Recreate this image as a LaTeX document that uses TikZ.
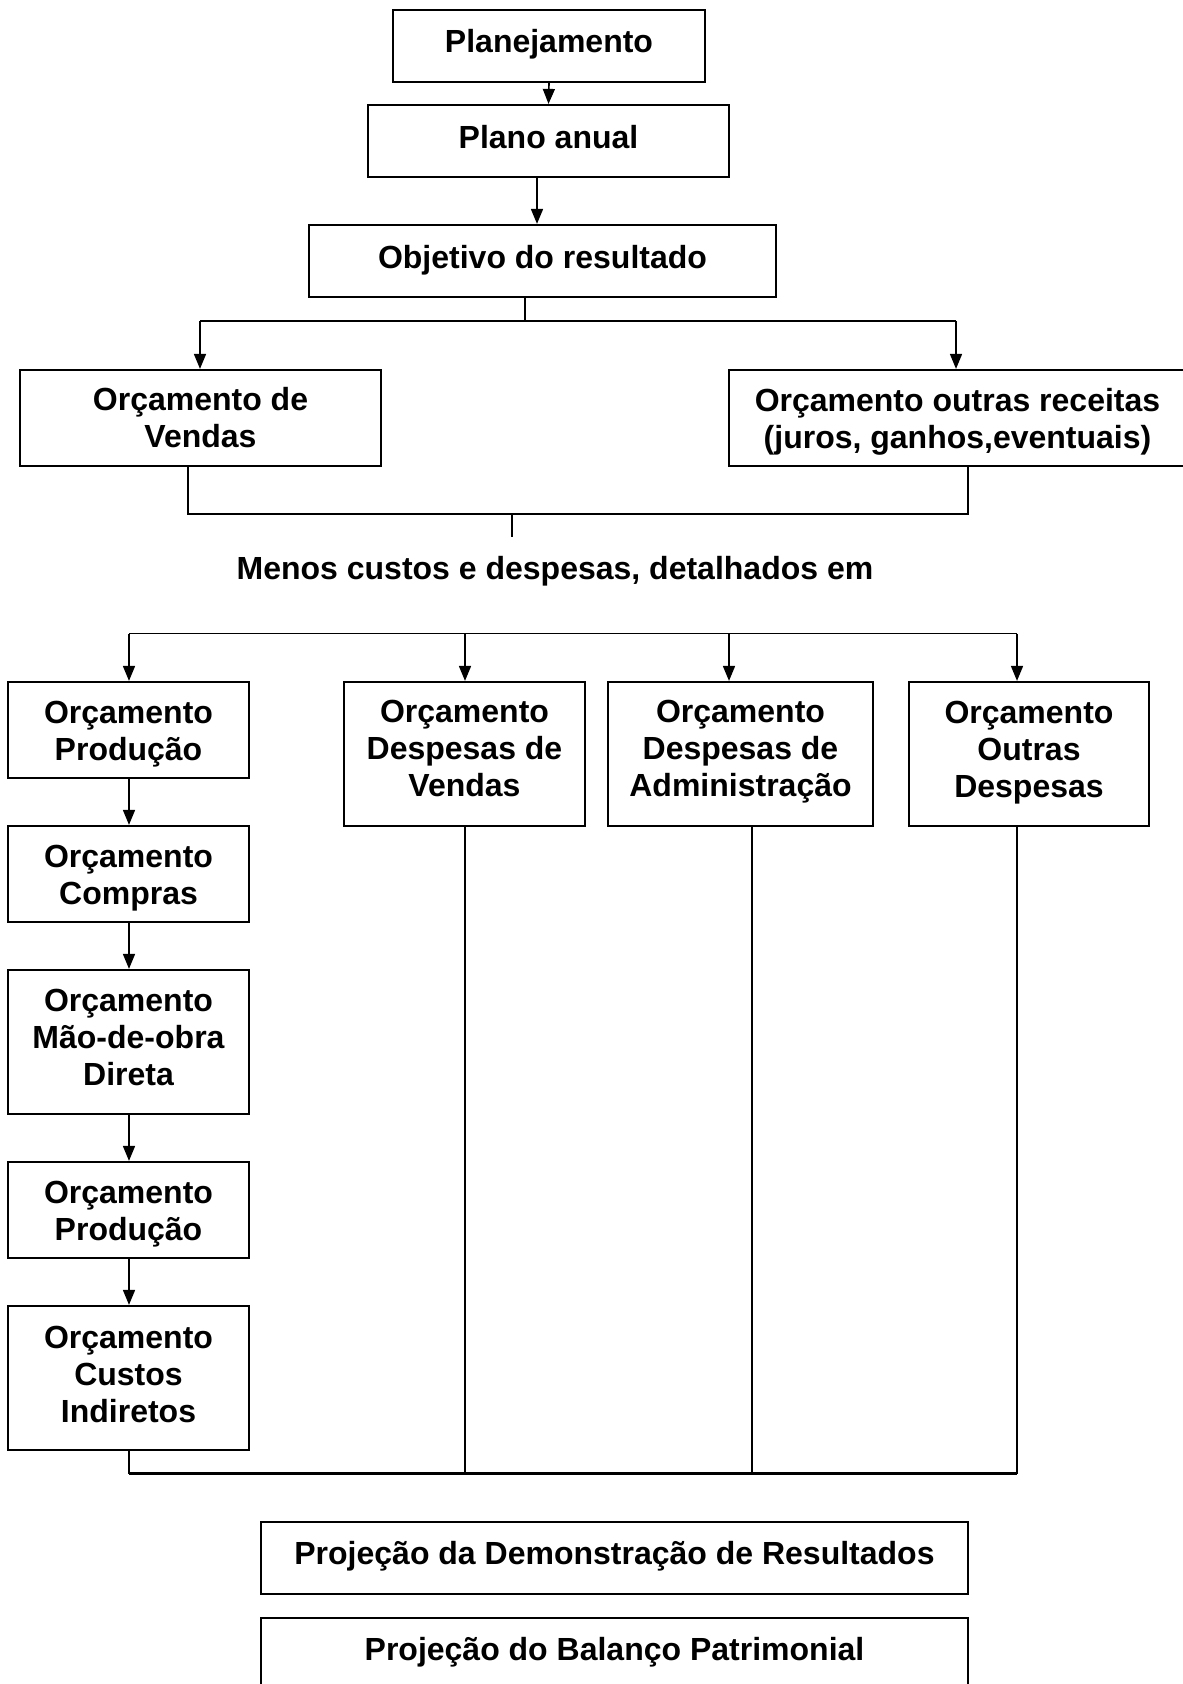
\documentclass[tikz,border=0pt]{standalone}
\usepackage{fontspec}
\setmainfont{Liberation Sans}
\usetikzlibrary{arrows.meta}
\begin{document}
\begin{tikzpicture}[x=0.5pt,y=-0.5pt,
  txt/.style={font=\fontsize{16}{18.5}\selectfont\bfseries, align=center, inner sep=0pt},
  box/.style={draw, line width=1.1pt, rectangle, inner sep=0pt},
  conn/.style={line width=0.8pt},
  arr/.style={conn, -{Triangle[length=7.5pt,width=6pt]}}]
\useasboundingbox (0,0) rectangle (1182,1684);
% top chain
\node[box, minimum width=156pt, minimum height=36pt] (plan) at (549,46) {};
\node[txt] (plant) at ([yshift=1pt]plan.center) {Planejamento};
\node[box, minimum width=180.5pt, minimum height=36pt] (anual) at (548.5,141) {};
\node[txt] (anualt) at ([yshift=2pt]anual.center) {Plano anual};
\node[box, minimum width=233.5pt, minimum height=36pt] (obj) at (542.5,261) {};
\node[txt] (objt) at ([yshift=0.5pt]obj.center) {Objetivo do resultado};
\node[box, minimum width=180.5pt, minimum height=48pt] (vendas) at (200.5,418) {};
\node[txt] (vendast) at (vendas.center) {Orçamento de\\Vendas};
\node[box, minimum width=228.5pt, minimum height=48pt] (receitas) at (957.5,418) {};
\node[txt] (receitast) at ([yshift=-2pt]receitas.center) {Orçamento outras receitas\\(juros, ganhos,eventuais)};
\coordinate (c1) at (537,0);
\draw[arr] (plan.south) -- (anual.north);
\draw[arr] (anual.south -| c1) -- (obj.north -| c1);
% branch 1
\coordinate (b1) at (525,321);
\coordinate (b2) at (200,321);
\coordinate (b3) at (956,321);
\draw[conn] (obj.south -| b1) -- (b1);
\draw[conn] (b2) -- (b3);
\draw[arr] (b2) -- (vendas.north -| b2);
\draw[arr] (b3) -- (receitas.north -| b3);
% join
\coordinate (j1) at (188,514);
\coordinate (j2) at (968,514);
\coordinate (jm) at (512,514);
\coordinate (jmend) at (512,537);
\draw[conn] (vendas.south -| j1) -- (j1) -- (j2) -- (receitas.south -| j2);
\draw[conn] (jm) -- (jmend);
\node[txt] (menos) at (555,571.5) {Menos custos e despesas, detalhados em};
% second row
\node[box, minimum width=120.5pt, minimum height=48pt] (p1) at (128.5,730) {};
\node[txt] (p1t) at ([yshift=-2.2pt]p1.center) {Orçamento\\Produção};
\node[box, minimum width=120.5pt, minimum height=72pt] (dv) at (464.5,754) {};
\node[txt] (dvt) at ([yshift=2.7pt]dv.center) {Orçamento\\Despesas de\\Vendas};
\node[box, minimum width=132.5pt, minimum height=72pt] (da) at (740.5,754) {};
\node[txt] (dat) at ([yshift=1.1pt]da.center) {Orçamento\\Despesas de\\Administração};
\node[box, minimum width=120pt, minimum height=72pt] (od) at (1029,754) {};
\node[txt] (odt) at ([yshift=0.9pt]od.center) {Orçamento\\Outras\\Despesas};
\node[box, minimum width=120.5pt, minimum height=48pt] (compras) at (128.5,874) {};
\node[txt] (comprast) at ([yshift=-2pt]compras.center) {Orçamento\\Compras};
\node[box, minimum width=120.5pt, minimum height=72pt] (mao) at (128.5,1042) {};
\node[txt] (maot) at ([yshift=2.2pt]mao.center) {Orçamento\\Mão-de-obra\\Direta};
\node[box, minimum width=120.5pt, minimum height=48pt] (p2) at (128.5,1210) {};
\node[txt] (p2t) at ([yshift=-2pt]p2.center) {Orçamento\\Produção};
\node[box, minimum width=120.5pt, minimum height=72pt] (ci) at (128.5,1378) {};
\node[txt] (cit) at ([yshift=2pt]ci.center) {Orçamento\\Custos\\Indiretos};
% branch 2
\coordinate (h1) at (129,633.5);
\coordinate (h2) at (465,633.5);
\coordinate (h3) at (729,633.5);
\coordinate (h4) at (1017,633.5);
\draw[conn] (h1) -- (h4);
\draw[arr] (h1) -- (p1.north -| h1);
\draw[arr] (h2) -- (dv.north -| h2);
\draw[arr] (h3) -- (da.north -| h3);
\draw[arr] (h4) -- (od.north -| h4);
% left chain
\draw[arr] (p1.south -| h1) -- (compras.north -| h1);
\draw[arr] (compras.south -| h1) -- (mao.north -| h1);
\draw[arr] (mao.south -| h1) -- (p2.north -| h1);
\draw[arr] (p2.south -| h1) -- (ci.north -| h1);
% bottom join
\coordinate (k1) at (129,1473.5);
\coordinate (k2) at (465,1473.5);
\coordinate (k3) at (752,1473.5);
\coordinate (k4) at (1017,1473.5);
\draw[conn] (ci.south -| k1) -- (k1);
\draw[conn, line width=1.1pt] (k1) -- (k4);
\draw[conn] (dv.south -| k2) -- (k2);
\draw[conn] (da.south -| k3) -- (k3);
\draw[conn] (od.south -| k4) -- (k4);
% projections
\node[box, minimum width=353.5pt, minimum height=36pt] (proj1) at (614.5,1558) {};
\node[txt] (proj1t) at ([yshift=1pt]proj1.center) {Projeção da Demonstração de Resultados};
\node[box, minimum width=353.5pt, minimum height=36pt] (proj2) at (614.5,1654) {};
\node[txt] (proj2t) at ([yshift=1pt]proj2.center) {Projeção do Balanço Patrimonial};
\end{tikzpicture}
\end{document}
